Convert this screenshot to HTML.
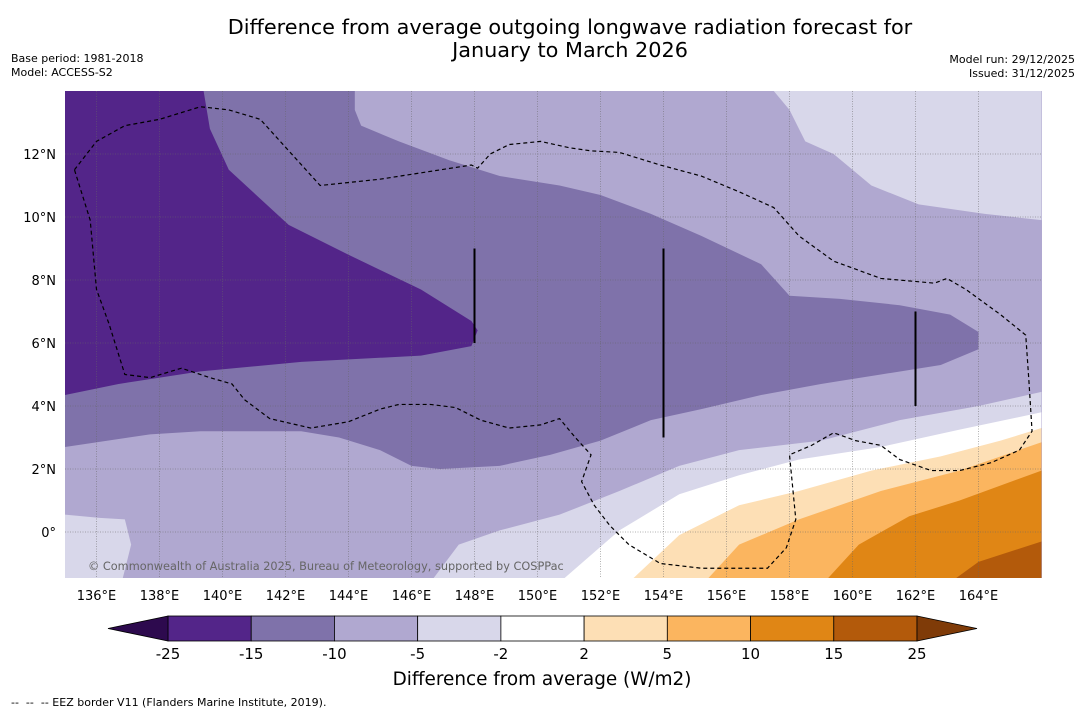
<!DOCTYPE html>
<html><head><meta charset="utf-8"><style>
body{margin:0;background:#fff;font-family:"DejaVu Sans","Liberation Sans",sans-serif}
svg{display:block}
</style></head><body>
<svg id="chart" width="1085" height="713" xmlns="http://www.w3.org/2000/svg">
<text x="570" y="34" font-size="20.8" text-anchor="middle" fill="#000">Difference from average outgoing longwave radiation forecast for</text>
<text x="570" y="57" font-size="20.8" text-anchor="middle" fill="#000">January to March 2026</text>
<text x="11" y="62" font-size="11">Base period: 1981-2018</text>
<text x="11" y="76" font-size="11">Model: ACCESS-S2</text>
<text x="1075" y="63" font-size="11" text-anchor="end">Model run: 29/12/2025</text>
<text x="1075" y="77" font-size="11" text-anchor="end">Issued: 31/12/2025</text>
<defs><clipPath id="mapclip"><rect x="65" y="91" width="977" height="487"/></clipPath></defs>
<g id="map" clip-path="url(#mapclip)"></g>
<g id="over"></g>
<g id="cbar"></g>
<text x="542" y="685" font-size="18.4" text-anchor="middle">Difference from average (W/m2)</text>
<text x="11" y="706" font-size="11" xml:space="preserve">--  --  -- EEZ border V11 (Flanders Marine Institute, 2019).</text>
</svg>
<script>
const lonTicks=[136,138,140,142,144,146,148,150,152,154,156,158,160,162,164];
const latTicks=[0,2,4,6,8,10,12];
const levelLabels=["-25","-15","-10","-5","-2","2","5","10","15","25"];
const levelColors=["#532589","#7f72aa","#b0a8d0","#d8d7ea","#ffffff","#fddfb5","#fbb55f","#e08615","#b35a0b"];
const underColor="#2d0a4e", overColor="#7f3b08";
const regionDark=[[135,14],[139.4,14],[139.6,12.8],[140.2,11.5],[142.1,9.75],[144,8.8],[146.3,7.7],[147.9,6.7],[148.1,6.4],[147.9,5.9],[146.3,5.6],[142.5,5.4],[139.3,5.1],[136.7,4.7],[135,4.35]];
const regionMed=[[135,14],[144.2,14],[144.2,13.4],[144.4,12.9],[145.6,12.4],[147.2,11.8],[148.8,11.3],[150.7,11],[152,10.7],[153.6,10.1],[155.2,9.4],[157.1,8.5],[158,7.5],[159.6,7.4],[161.5,7.2],[163.1,6.9],[164,6.35],[164,5.8],[162.8,5.3],[160.9,5],[159,4.7],[157.1,4.35],[155.2,3.9],[153.6,3.55],[152,2.9],[150.4,2.45],[148.8,2.1],[146.9,2],[146,2.1],[145,2.6],[143.7,3],[142.5,3.2],[139.3,3.2],[137.7,3.1],[135,2.7]];
const regionLightTR=[[157.5,14],[158,13.4],[158.5,12.4],[159.4,12],[160.6,11],[162.1,10.4],[164.2,10.1],[166,9.9],[166,14]];
const regionLightBL=[[135,0.55],[136.1,0.45],[136.9,0.4],[137.1,-0.4],[136.8,-1.6],[135,-1.6]];
const regionLightBand=[[146.6,-1.6],[147.5,-0.4],[148.8,0.05],[150.7,0.55],[152.6,1.3],[154.5,2.1],[156.4,2.6],[159,2.9],[161.5,3.55],[164,4],[166,4.45],[166,-1.6]];
const regionWhite=[[150.7,-1.6],[152.6,0.05],[154.5,1.2],[156.4,1.8],[158.3,2.3],[160.9,2.7],[163.4,3.25],[166,3.8],[166,-1.6]];
const regionP2=[[152.9,-1.6],[154.5,-0.1],[156.4,0.85],[158.3,1.3],[160.6,1.95],[162.8,2.4],[164.7,2.9],[166,3.3],[166,-1.6]];
const regionP5=[[155.3,-1.6],[156.4,-0.4],[158.3,0.4],[160.9,1.3],[163.4,1.95],[166,2.85],[166,-1.6]];
const regionP10=[[159.1,-1.6],[160.2,-0.4],[161.8,0.5],[163.4,1],[166,1.95],[166,-1.6]];
const regionP15=[[163.1,-1.6],[164,-0.95],[166,-0.3],[166,-1.6]];
const eez=[[135.3,11.5],[136,12.4],[136.9,12.9],[138,13.1],[139.3,13.5],[140.2,13.4],[141.2,13.1],[143.1,11],[145,11.2],[147.9,11.65],[148.1,11.55],[148.5,12],[149.1,12.3],[150.1,12.4],[151,12.2],[151.7,12.1],[152.6,12.05],[153.9,11.65],[155.2,11.3],[156.4,10.8],[157.5,10.3],[158.3,9.4],[159.4,8.6],[160.9,8.05],[162.6,7.9],[163,8.05],[163.6,7.7],[164.7,6.9],[165.5,6.25],[165.6,4.8],[165.7,3.2],[165.3,2.6],[164.4,2.2],[163.4,1.95],[162.5,1.95],[161.5,2.3],[160.9,2.75],[160.1,2.9],[159.4,3.15],[158.7,2.75],[158,2.45],[158.2,0.4],[157.9,-0.5],[157.3,-1.15],[155.2,-1.15],[153.9,-1],[152.9,-0.4],[152.3,0.2],[151.8,0.85],[151.4,1.6],[151.7,2.45],[151.2,3],[150.7,3.6],[150.1,3.4],[149.1,3.3],[148.2,3.55],[147.4,3.95],[146.6,4.05],[145.6,4.05],[145,3.9],[144,3.5],[142.8,3.3],[141.5,3.6],[140.7,4.2],[140.3,4.7],[139.6,4.9],[138.7,5.2],[137.7,4.9],[136.9,5],[136.4,6.6],[136,7.7],[135.8,9.9],[135.3,11.5]];
const segLons=[148,154,162], segLat0=[6,3,4], segLat1=[9,9,7];

const NS="http://www.w3.org/2000/svg";
const X=lon=>65+(lon-135)*31.5;
const Y=lat=>532-lat*31.5;
function mk(tag,attrs,parent){const e=document.createElementNS(NS,tag);for(const k in attrs)e.setAttribute(k,attrs[k]);parent.appendChild(e);return e;}
const map=document.getElementById('map'), over=document.getElementById('over'), cb=document.getElementById('cbar');
const bg=mk('rect',{x:65,y:91,width:977,height:487,fill:levelColors[2]},map);


function poly(pts,color,name){const p=mk('polygon',{points:pts.map(q=>X(q[0])+','+Y(q[1])).join(' '),fill:color},map);

}
poly(regionMed,levelColors[1],'contour-minus15-to-minus10');
poly(regionDark,levelColors[0],'contour-minus25-to-minus15');
poly(regionLightTR,levelColors[3],'contour-minus5-to-minus2-north');
poly(regionLightBL,levelColors[3],'contour-minus5-to-minus2-west');
poly(regionLightBand,levelColors[3],'contour-minus5-to-minus2-south');
poly(regionWhite,levelColors[4],'contour-minus2-to-2');
poly(regionP2,levelColors[5],'contour-2-to-5');
poly(regionP5,levelColors[6],'contour-5-to-10');
poly(regionP10,levelColors[7],'contour-10-to-15');
poly(regionP15,levelColors[8],'contour-15-to-25');
lonTicks.forEach(l=>{const g=mk('line',{x1:X(l),x2:X(l),y1:91,y2:578,stroke:'#666','stroke-width':0.5,'stroke-dasharray':'1,1.5'},map);


const t=mk('text',{x:X(l),y:600,'font-size':13,'text-anchor':'middle'},over);t.textContent=l+'°E';

});
latTicks.forEach(l=>{const g=mk('line',{x1:65,x2:1042,y1:Y(l),y2:Y(l),stroke:'#666','stroke-width':0.5,'stroke-dasharray':'1,1.5'},map);


const t=mk('text',{x:56,y:Y(l)+5,'font-size':13,'text-anchor':'end'},over);t.textContent=l===0?'0°':l+'°N';

});
const ez=mk('polyline',{points:eez.map(q=>X(q[0])+','+Y(q[1])).join(' '),fill:'none',stroke:'#000','stroke-width':1.2,'stroke-dasharray':'4,3'},map);


segLons.forEach((l,i)=>{const s=mk('line',{x1:X(l),x2:X(l),y1:Y(segLat0[i]),y2:Y(segLat1[i]),stroke:'#000','stroke-width':2},map);

});
const cp=mk('text',{x:88,y:570,'font-size':11.3,fill:'#666'},map);cp.textContent='© Commonwealth of Australia 2025, Bureau of Meteorology, supported by COSPPac';


const bx0=168,bx1=917,by=616,bh=25,bw=(bx1-bx0)/levelColors.length;
levelColors.forEach((c,i)=>{const r=mk('rect',{x:bx0+i*bw,y:by,width:bw,height:bh,fill:c,stroke:'#000','stroke-width':0.8},cb);

});
const tl=mk('polygon',{points:`${bx0},${by} ${bx0-60},${by+bh/2} ${bx0},${by+bh}`,fill:underColor,stroke:'#000','stroke-width':0.8},cb);


const tr=mk('polygon',{points:`${bx1},${by} ${bx1+60},${by+bh/2} ${bx1},${by+bh}`,fill:overColor,stroke:'#000','stroke-width':0.8},cb);


levelLabels.forEach((s,i)=>{const t=mk('text',{x:bx0+i*bw,y:659,'font-size':15,'text-anchor':'middle'},cb);t.textContent=s;

});
</script>
</body></html>
